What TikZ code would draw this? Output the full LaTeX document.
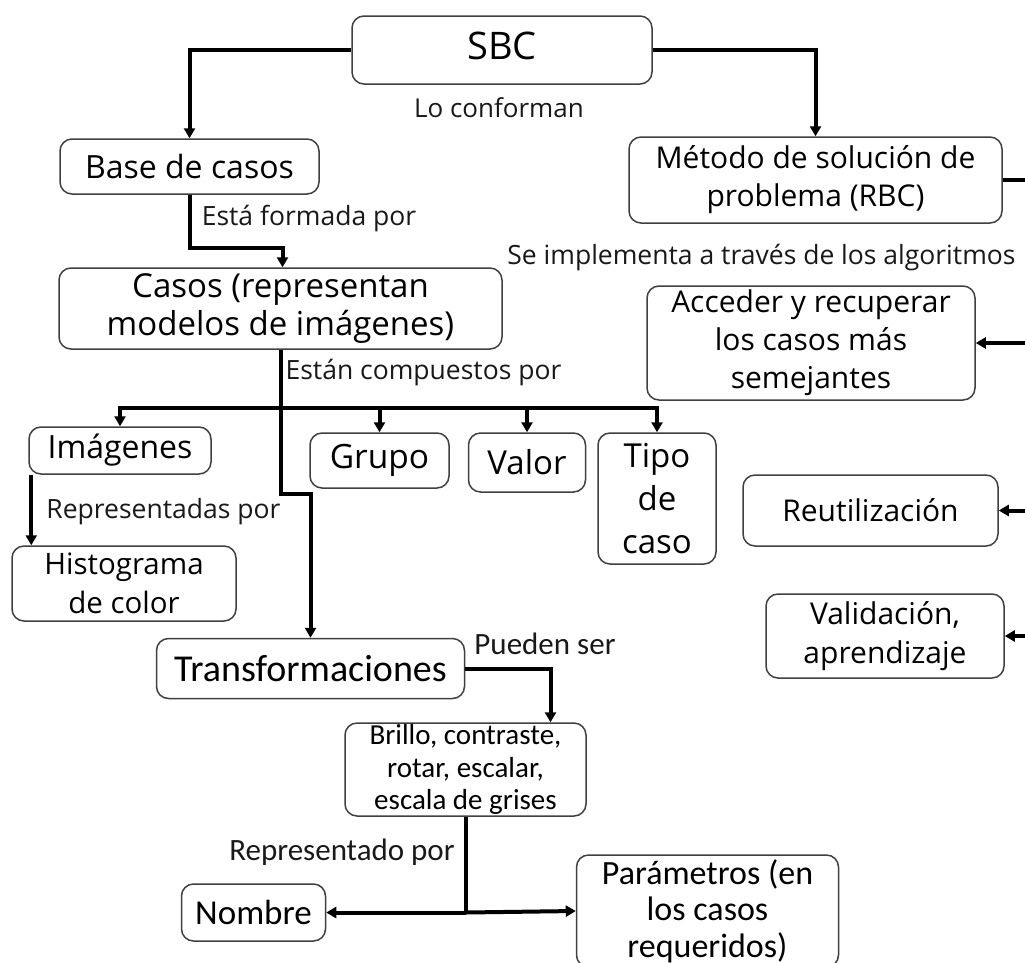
\documentclass[tikz,border=0pt]{standalone}
\usepackage{fontspec}
\setmainfont{Open Sans}
\newfontfamily\cbfont{Carlito}
\usetikzlibrary{arrows.meta}
\newcommand\myfs[2]{\fontsize{#1}{#2}\selectfont}
\tikzset{
  box/.style={draw=black!75, line width=1.5pt, rounded corners=12pt, fill=white, align=center, inner sep=0pt},
  arr/.style={-{Triangle[length=10pt,width=11pt]}, line width=4pt},
  ln/.style={line width=4pt},
  lbl/.style={inner sep=0pt, text=black!90},
}
\begin{document}
\begin{tikzpicture}[x=1pt,y=-1pt]
\useasboundingbox (0,0) rectangle (1025,962);
\fill[white] (0,0) rectangle (1025,962);
\clip (0,0) rectangle (1025,962);
% nodes
\node[box, minimum width=300pt, minimum height=68pt, font=\myfs{38}{44}] (sbc) at (502,50) {\raisebox{9pt}{SBC}};
\node[box, minimum width=259pt, minimum height=55pt, font=\myfs{32}{38}] (base) at (189.5,166.5) {Base de casos};
\node[box, minimum width=443pt, minimum height=81pt, font=\myfs{33}{38}] (casos) at (280.5,308.5) {Casos (representan\\modelos de imágenes)};
\node[box, minimum width=182pt, minimum height=47pt, font=\myfs{32}{37}] (img) at (120,450.5) {Imágenes};
\node[box, minimum width=139pt, minimum height=55pt, font=\myfs{33.5}{38}] (grupo) at (379.5,460.5) {Grupo};
\node[box, minimum width=117pt, minimum height=59pt, font=\myfs{33}{38}] (valor) at (527,462.5) {Valor};
\node[box, minimum width=118pt, minimum height=131pt, font=\myfs{33}{43}] (tipo) at (657,498.5) {Tipo\\de\\caso};
\node[box, minimum width=224pt, minimum height=75pt, font=\myfs{29.5}{39}] (hist) at (124,583.5) {Histograma\\de color};
\node[box, minimum width=308pt, minimum height=60pt, font=\cbfont\myfs{38}{42}] (trans) at (310.5,668.5) {Transformaciones};
\node[box, minimum width=241pt, minimum height=93pt, font=\cbfont\myfs{29}{32.5}] (brillo) at (465.5,769.5) {Brillo, contraste,\\rotar, escalar,\\escala de grises};
\node[box, minimum width=144pt, minimum height=57pt, font=\cbfont\myfs{35}{38}] (nombre) at (253.5,912.5) {Nombre};
\node[box, minimum width=262pt, minimum height=112pt, font=\cbfont\myfs{34}{36.5}] (param) at (707.5,911) {Parámetros (en\\los casos\\requeridos)};
\node[box, minimum width=373pt, minimum height=86pt, font=\myfs{30}{38}] (metodo) at (815.5,180) {Método de solución de\\problema (RBC)};
\node[box, minimum width=328pt, minimum height=114pt, font=\myfs{30}{38}] (acceder) at (811,343) {Acceder y recuperar\\los casos más\\semejantes};
\node[box, minimum width=255pt, minimum height=71pt, font=\myfs{30}{37}] (reutil) at (870.5,510.5) {Reutilización};
\node[box, minimum width=238pt, minimum height=84pt, font=\myfs{30}{39}] (valid) at (885,636) {Validación,\\aprendizaje};
% labels
\node[lbl, font=\myfs{26}{30}] (l1) at (499,108) {Lo conforman};
\node[lbl, font=\myfs{26.5}{30}] (l2) at (309,219) {Está formada por};
\node[lbl, font=\myfs{26.5}{30}] (l3) at (761.5,258) {Se implementa a través de los algoritmos};
\node[lbl, font=\myfs{26.5}{30}] (l4) at (423.5,373) {Están compuestos por};
\node[lbl, font=\myfs{26.5}{30}] (l5) at (163.5,512) {Representadas por};
\node[lbl, font=\cbfont\myfs{31}{35}] (l6) at (545,644) {Pueden ser};
\node[lbl, font=\cbfont\myfs{31}{35}] (l7) at (342,852) {Representado por};
% connectors
\draw[arr] (sbc.west) -| (base.north);
\draw[arr] (sbc.east) -| (metodo.north);
\draw[arr] (base.south) -- ++(0,53) -| ([xshift=2pt]casos.north);
\coordinate (bus) at (280.5,408);
\draw[arr] (casos.south) -- ++(0,144) -| (trans.north);
\draw[arr] (bus) -| (img.north);
\draw[arr] (bus) -| (grupo.north);
\draw[arr] (bus) -| (valor.north);
\draw[arr] (bus) -| (tipo.north);
\draw[arr] ([xshift=3pt]img.south west) -- ([xshift=3pt]img.south west |- hist.north);
\draw[arr] (trans.east) -| ([xshift=85pt]brillo.north);
\coordinate (j) at (brillo.south |- nombre.east);
\draw[ln] (brillo.south) -- (j);
\draw[arr] (j) -- (nombre.east);
\draw[arr] (j) -- (param.west);
\coordinate (rbus) at (1040,0);
\draw[ln] (metodo.east) -| (rbus |- valid.east);
\draw[arr] (rbus |- acceder.east) -- (acceder.east);
\draw[arr] (rbus |- reutil.east) -- (reutil.east);
\draw[arr] (rbus |- valid.east) -- (valid.east);
\end{tikzpicture}
\end{document}
